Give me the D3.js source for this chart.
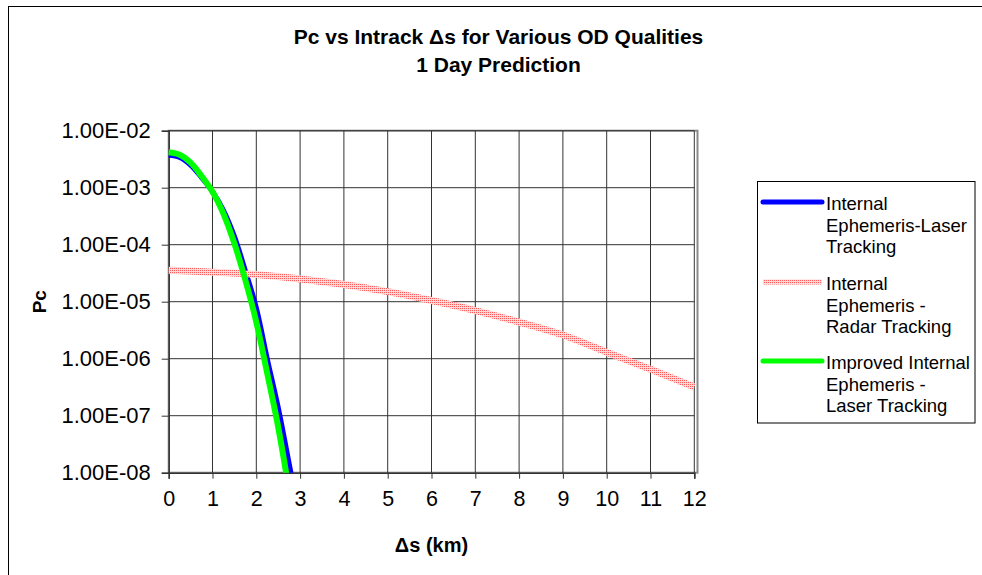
<!DOCTYPE html>
<html>
<head>
<meta charset="utf-8">
<script src="https://cdn.jsdelivr.net/npm/d3@7"></script>
<style>
  html, body { margin: 0; padding: 0; background: #fff; }
  svg { display: block; }
  text { font-family: "Liberation Sans", Arial, sans-serif; fill: #000; }
</style>
</head>
<body>
<svg id="chart" width="982" height="575"></svg>
<script>
// ---- data ----
const titleLines = ["Pc vs Intrack \u0394s for Various OD Qualities", "1 Day Prediction"];
const xLabel = "\u0394s (km)";
const yLabel = "Pc";
const xTicks = [0,1,2,3,4,5,6,7,8,9,10,11,12];
const yTicks = [1e-2,1e-3,1e-4,1e-5,1e-6,1e-7,1e-8];
const yTickLabels = ["1.00E-02","1.00E-03","1.00E-04","1.00E-05","1.00E-06","1.00E-07","1.00E-08"];

const laserX = [0,0.25,0.5,0.75,1,1.25,1.5,1.75,2,2.25,2.5,2.75,2.85];
const laserY = [3.7e-3,3.4e-3,2.5e-3,1.5e-3,8.5e-4,4.0e-4,1.4e-4,3.5e-5,7.9e-6,1.0e-6,1.4e-7,1.45e-8,5.8e-9];

const radarX = [0,1,2,3,4,5,6,7,8,9,10,11,12];
const radarY = [3.56e-5,3.3e-5,3.0e-5,2.5e-5,2.0e-5,1.5e-5,1.05e-5,7.0e-6,4.4e-6,2.6e-6,1.3e-6,6.5e-7,3.2e-7];

const improvedX = [0,0.25,0.5,0.75,1,1.25,1.5,1.75,2,2.25,2.5,2.7];
const improvedY = [4.2e-3,3.8e-3,2.75e-3,1.6e-3,8.5e-4,3.5e-4,1.05e-4,2.4e-5,4.4e-6,5.5e-7,6.3e-8,8.1e-9];

const seriesNames = [
  ["Internal", "Ephemeris-Laser", "Tracking"],
  ["Internal", "Ephemeris -", "Radar Tracking"],
  ["Improved Internal", "Ephemeris -", "Laser Tracking"]
];

// ---- layout ----
const svg = d3.select("#chart");
const L = 168.7, R = 694.3, T = 130.7, B = 472.7;
const x = d3.scaleLinear().domain([0, 12]).range([L, R]);
const y = d3.scaleLog().domain([1e-8, 1e-2]).range([B, T]);

const defs = svg.append("defs");
const pat = defs.append("pattern").attr("id", "pinkdots")
  .attr("patternUnits", "userSpaceOnUse").attr("width", 2).attr("height", 2);
pat.append("rect").attr("width", 2).attr("height", 2).attr("fill", "#ffd6d6");
pat.append("rect").attr("width", 1).attr("height", 1).attr("fill", "#ff5c5c");
defs.append("clipPath").attr("id", "plotclip")
  .append("rect").attr("x", L - 5).attr("y", T).attr("width", R - L + 10).attr("height", B - T);

// outer frame (only top/left visible)
svg.append("rect").attr("x", 8.5).attr("y", 6.5).attr("width", 1200).attr("height", 1200)
  .attr("fill", "none").attr("stroke", "#000").attr("stroke-width", 1);

// title
svg.append("text").attr("x", 498.5).attr("y", 44).attr("text-anchor", "middle")
  .style("font-size", "21px").style("font-weight", "bold").text(titleLines[0]);
svg.append("text").attr("x", 498.5).attr("y", 72).attr("text-anchor", "middle")
  .style("font-size", "21px").style("font-weight", "bold").text(titleLines[1]);

// plot border
svg.append("rect").attr("x", L).attr("y", T).attr("width", 697.5 - L).attr("height", B - T)
  .attr("fill", "none").attr("stroke", "#8a8a8a").attr("stroke-width", 2);

// gridlines
const grid = svg.append("g");
grid.selectAll("line.v").data(xTicks.slice(1)).enter().append("line")
  .attr("x1", d => x(d)).attr("x2", d => x(d)).attr("y1", T).attr("y2", B)
  .attr("stroke", "#333").attr("stroke-width", 1);
grid.selectAll("line.h").data(yTicks.slice(0, -1)).enter().append("line")
  .attr("x1", L).attr("x2", R).attr("y1", d => y(d)).attr("y2", d => y(d))
  .attr("stroke", "#333").attr("stroke-width", 1);

// axes
const xAxis = d3.axisBottom(x).tickValues(xTicks).tickSize(6).tickPadding(12)
  .tickFormat(d => String(d));
const gx = svg.append("g").attr("transform", `translate(0,${B})`).call(xAxis);
gx.select(".domain").attr("stroke", "#333").attr("stroke-width", 1.5);
gx.selectAll(".tick line").attr("stroke", "#333");
gx.selectAll(".tick text").style("font-size", "21.5px")
  .style("font-family", "'Liberation Sans', Arial, sans-serif").attr("fill", "#000");

const yAxis = d3.axisLeft(y).tickValues(yTicks).tickSize(7).tickPadding(11)
  .tickFormat((d, i) => yTickLabels[i]);
const gy = svg.append("g").attr("transform", `translate(${L},0)`).call(yAxis);
gy.select(".domain").attr("stroke", "#333").attr("stroke-width", 1.5);
gy.selectAll(".tick line").attr("stroke", "#333");
gy.selectAll(".tick text").style("font-size", "22px")
  .style("font-family", "'Liberation Sans', Arial, sans-serif").attr("fill", "#000");

// axis titles
svg.append("text").attr("x", (L + R) / 2).attr("y", 552).attr("text-anchor", "middle")
  .style("font-size", "20px").style("font-weight", "bold").text(xLabel);
svg.append("text").attr("transform", `translate(46,${(T + B) / 2}) rotate(-90)`)
  .attr("text-anchor", "middle")
  .style("font-size", "19px").style("font-weight", "bold").text(yLabel);

// series
const line = d3.line().x(d => x(d[0])).y(d => y(d[1])).curve(d3.curveCatmullRom.alpha(0.5));
const plot = svg.append("g").attr("clip-path", "url(#plotclip)");
const series = [
  { xs: laserX, ys: laserY, stroke: "#0000ff", w: 5 },
  { xs: radarX, ys: radarY, stroke: "url(#pinkdots)", w: 7 },
  { xs: improvedX, ys: improvedY, stroke: "#00ff00", w: 6 }
];
series.forEach(s => {
  plot.append("path").datum(s.xs.map((v, i) => [v, s.ys[i]]))
    .attr("d", line).attr("fill", "none").attr("stroke", s.stroke)
    .attr("stroke-width", s.w).attr("stroke-linejoin", "round");
});

// legend
const lg = svg.append("g");
lg.append("rect").attr("x", 757.5).attr("y", 181.5).attr("width", 217.5).attr("height", 241.5)
  .attr("fill", "#fff").attr("stroke", "#000").attr("stroke-width", 1);
const groupTop = [204, 284, 363];
series.forEach((s, i) => {
  const cy = groupTop[i];
  lg.append("line").attr("x1", 763).attr("x2", 822).attr("y1", cy - 2).attr("y2", cy - 2)
    .attr("stroke", s.stroke).attr("stroke-width", 5)
    .attr("stroke-linecap", i === 1 ? "butt" : "round");
  seriesNames[i].forEach((t, j) => {
    lg.append("text").attr("x", 826).attr("y", cy + j * 21.5).attr("dy", "0.35em")
      .style("font-size", "18.5px").text(t);
  });
});
</script>
</body>
</html>
